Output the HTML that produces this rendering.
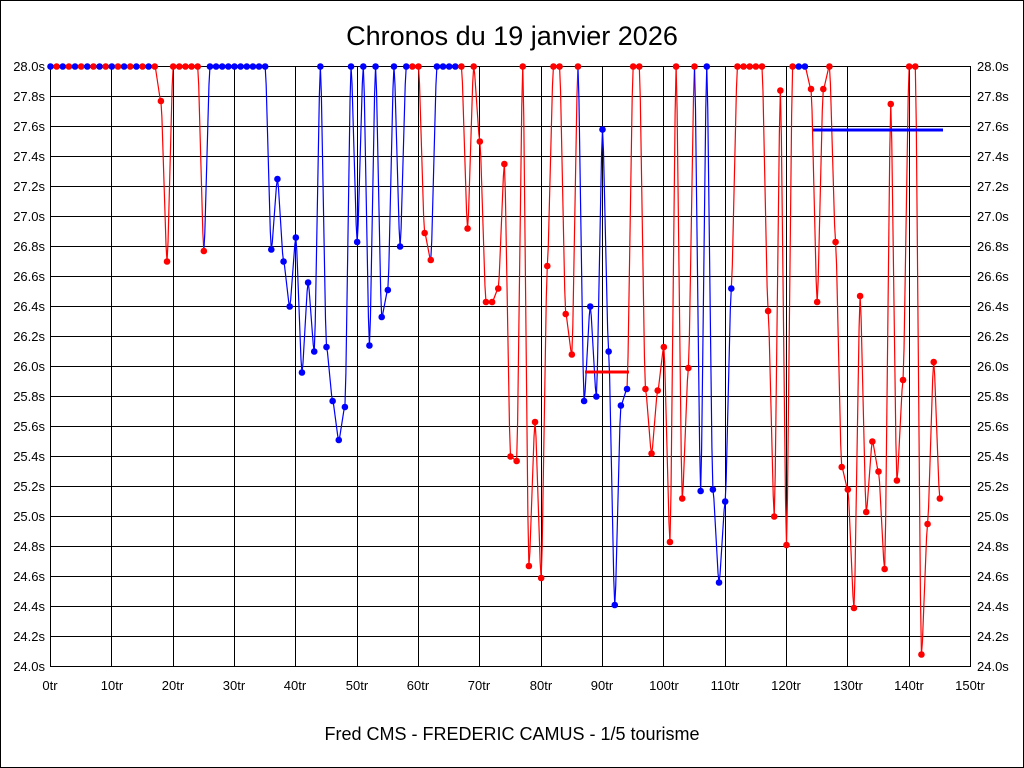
<!DOCTYPE html>
<html><head><style>
html,body{margin:0;padding:0;background:#fff}
svg{display:block}
text{font-family:"Liberation Sans",sans-serif;font-size:13px;fill:#000}
</style></head><body>
<svg id="s" width="1024" height="768" xmlns="http://www.w3.org/2000/svg">
<rect x="0.5" y="0.5" width="1023" height="767" fill="#fff" stroke="#000"/>
<text x="512" y="45" text-anchor="middle" style="font-size:27px">Chronos du 19 janvier 2026</text>
<text x="512" y="740" text-anchor="middle" style="font-size:18px">Fred CMS - FREDERIC CAMUS - 1/5 tourisme</text>
<g id="grid"></g>
<g text-anchor="end">
<text x="45" y="71">28.0s</text><text x="45" y="101">27.8s</text><text x="45" y="131">27.6s</text><text x="45" y="161">27.4s</text><text x="45" y="191">27.2s</text><text x="45" y="221">27.0s</text><text x="45" y="251">26.8s</text><text x="45" y="281">26.6s</text><text x="45" y="311">26.4s</text><text x="45" y="341">26.2s</text><text x="45" y="371">26.0s</text><text x="45" y="401">25.8s</text><text x="45" y="431">25.6s</text><text x="45" y="461">25.4s</text><text x="45" y="491">25.2s</text><text x="45" y="521">25.0s</text><text x="45" y="551">24.8s</text><text x="45" y="581">24.6s</text><text x="45" y="611">24.4s</text><text x="45" y="641">24.2s</text><text x="45" y="671">24.0s</text>
</g>
<g>
<text x="977" y="71">28.0s</text><text x="977" y="101">27.8s</text><text x="977" y="131">27.6s</text><text x="977" y="161">27.4s</text><text x="977" y="191">27.2s</text><text x="977" y="221">27.0s</text><text x="977" y="251">26.8s</text><text x="977" y="281">26.6s</text><text x="977" y="311">26.4s</text><text x="977" y="341">26.2s</text><text x="977" y="371">26.0s</text><text x="977" y="401">25.8s</text><text x="977" y="431">25.6s</text><text x="977" y="461">25.4s</text><text x="977" y="491">25.2s</text><text x="977" y="521">25.0s</text><text x="977" y="551">24.8s</text><text x="977" y="581">24.6s</text><text x="977" y="611">24.4s</text><text x="977" y="641">24.2s</text><text x="977" y="671">24.0s</text>
</g>
<g text-anchor="middle">
<text x="50" y="690">0tr</text><text x="112" y="690">10tr</text><text x="173" y="690">20tr</text><text x="234" y="690">30tr</text><text x="295" y="690">40tr</text><text x="357" y="690">50tr</text><text x="418" y="690">60tr</text><text x="479" y="690">70tr</text><text x="541" y="690">80tr</text><text x="602" y="690">90tr</text><text x="664" y="690">100tr</text><text x="725" y="690">110tr</text><text x="786" y="690">120tr</text><text x="848" y="690">130tr</text><text x="909" y="690">140tr</text><text x="970" y="690">150tr</text>
</g>
<g id="data"></g>
</svg>
<script>
var NS="http://www.w3.org/2000/svg";
function el(p,t,a){var e=document.createElementNS(NS,t);for(var k in a)e.setAttribute(k,a[k]);p.appendChild(e);return e;}
var g=document.getElementById('grid');
for(var i=0;i<=20;i++){var y=66.5+i*30;el(g,'line',{x1:50,x2:971,y1:y,y2:y,stroke:'#000','stroke-width':1});}
for(var i=0;i<=15;i++){var x=Math.round(50+i*920/15)+0.5;el(g,'line',{x1:x,x2:x,y1:66,y2:667,stroke:'#000','stroke-width':1});}
var B='b',R='r';
var d=[];
for(var i=0;i<18;i++)d.push([28,i%2?R:B]);
d=d.concat([[27.77,R],[26.7,R],[28,R],[28,R],[28,R],[28,R],[28,R],[26.77,R]]);
for(var i=26;i<=35;i++)d.push([28,B]);
d=d.concat([[26.78,B],[27.25,B],[26.7,B],[26.4,B],[26.86,B],[25.96,B],[26.56,B],[26.1,B],[28,B],[26.13,B],[25.77,B],[25.51,B],[25.73,B],[28,B],[26.83,B],[28,B],[26.14,B],[28,B],[26.33,B],[26.51,B],[28,B],[26.8,B],[28,B],
[28,R],[28,R],[26.89,R],[26.71,R],[28,B],[28,B],[28,B],[28,B],[28,R],[26.92,R],[28,R],[27.5,R],[26.43,R],[26.43,R],[26.52,R],[27.35,R],[25.4,R],[25.37,R],[28,R],[24.67,R],[25.63,R],[24.59,R],[26.67,R],[28,R],[28,R],[26.35,R],[26.08,R],[28,R],
[25.77,B],[26.4,B],[25.8,B],[27.58,B],[26.1,B],[24.41,B],[25.74,B],[25.85,B],
[28,R],[28,R],[25.85,R],[25.42,R],[25.84,R],[26.13,R],[24.83,R],[28,R],[25.12,R],[25.99,R],[28,R],
[25.17,B],[28,B],[25.18,B],[24.56,B],[25.1,B],[26.52,B],
[28,R],[28,R],[28,R],[28,R],[28,R],[26.37,R],[25.0,R],[27.84,R],[24.81,R],[28,R],[28,B],[28,B],
[27.85,R],[26.43,R],[27.85,R],[28,R],[26.83,R],[25.33,R],[25.18,R],[24.39,R],[26.47,R],[25.03,R],[25.5,R],[25.3,R],[24.65,R],[27.75,R],[25.24,R],[25.91,R],[28,R],[28,R],[24.08,R],[24.95,R],[26.03,R],[25.12,R]]);
var D=document.getElementById('data');
function X(i){return 50.5+i*920/150;}function Y(v){return 66.5+(28-v)*150;}
var col={b:'#0000ff',r:'#ff0000'};
for(var i=1;i<d.length;i++){
 var a=d[i-1],b=d[i],c=col[b[1]];
 var x1=X(i-1),x2=X(i),y1=Y(a[0]),y2=Y(b[0]);
 if(a[0]==28&&b[0]==28){el(D,'line',{x1:x1,x2:x2,y1:y1,y2:y2,stroke:c,'stroke-width':3});}
 else{el(D,'polyline',{points:x1+','+y1+' '+(x1+1)+','+(y1+(y2-y1)*0.1)+' '+(x2-1)+','+(y1+(y2-y1)*0.9)+' '+x2+','+y2,fill:'none',stroke:c,'stroke-width':1.2});}
}
el(D,'line',{x1:585,x2:629,y1:372,y2:372,stroke:'#ff0000','stroke-width':3});
el(D,'line',{x1:813,x2:943,y1:130,y2:130,stroke:'#0000ff','stroke-width':3});
for(var i=0;i<d.length;i++)el(D,'circle',{cx:X(i),cy:Y(d[i][0]),r:3.3,fill:col[d[i][1]]});
</script>
</body></html>
